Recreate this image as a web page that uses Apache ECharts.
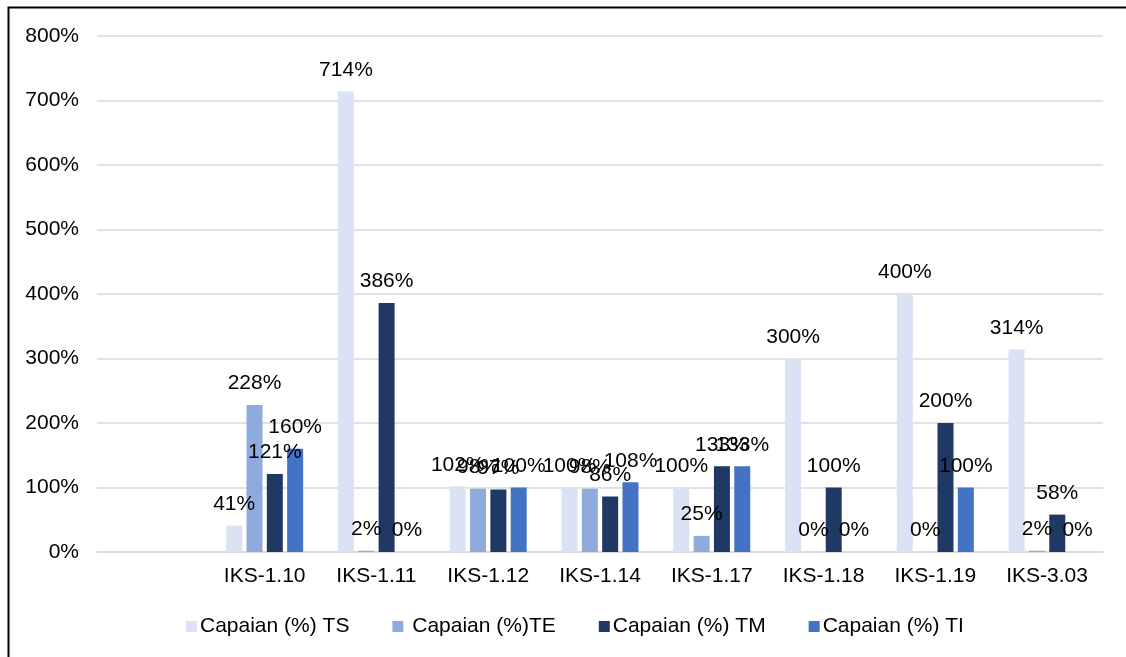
<!DOCTYPE html>
<html>
<head>
<meta charset="utf-8">
<script src="https://cdn.jsdelivr.net/npm/echarts@6/dist/echarts.min.js"></script>
<style>
html,body{margin:0;padding:0;background:#fff;}
#c{width:1126px;height:657px;}
</style>
</head>
<body>
<div id="c"></div>
<script>
const categories = ['', 'IKS-1.10', 'IKS-1.11', 'IKS-1.12', 'IKS-1.14', 'IKS-1.17', 'IKS-1.18', 'IKS-1.19', 'IKS-3.03'];
const seriesNames = ['Capaian (%) TS', ' Capaian (%)TE', 'Capaian (%) TM', 'Capaian (%) TI'];
const valuesTS = [null, 41, 714, 102, 100, 100, 300, 400, 314];
const valuesTE = [null, 228, 2, 98, 98, 25, 0, 0, 2];
const valuesTM = [null, 121, 386, 97, 86, 133, 100, 200, 58];
const valuesTI = [null, 160, 0, 100, 108, 133, 0, 100, 0];
const yTicks = [0, 100, 200, 300, 400, 500, 600, 700, 800];

const colors = ['#DAE3F3', '#8FAADC', '#203864', '#4472C4'];
const allValues = [valuesTS, valuesTE, valuesTM, valuesTI];
const FONT = '"Liberation Sans", Arial, sans-serif';
const FS = 21;

const chart = echarts.init(document.getElementById('c'), null, {renderer: 'canvas'});
chart.setOption({
  animation: false,
  backgroundColor: '#fff',
  color: colors,
  graphic: [{
    type: 'rect', left: 6, top: 5, silent: true,
    shape: {width: 1200, height: 800},
    style: {fill: 'none', stroke: '#000', lineWidth: 2}
  }],
  grid: {left: 97, right: 23, top: 36, bottom: 105, containLabel: false},
  legend: {
    left: 181, top: 611,
    itemWidth: 11, itemHeight: 11, itemGap: 43,
    icon: 'rect',
    textStyle: {fontFamily: FONT, fontSize: FS, color: '#000', padding: [0,0,0,-2]},
    data: seriesNames
  },
  xAxis: {
    type: 'category',
    data: categories,
    axisLine: {show: true, lineStyle: {color: '#D9D9D9', width: 1.5}},
    axisTick: {show: false},
    axisLabel: {fontFamily: FONT, fontSize: FS, color: '#000', margin: 14, interval: 0}
  },
  yAxis: {
    type: 'value',
    min: yTicks[0], max: yTicks[yTicks.length - 1], interval: 100,
    axisLine: {show: false},
    axisTick: {show: false},
    splitLine: {lineStyle: {color: '#D9D9D9', width: 1.5}},
    axisLabel: {fontFamily: FONT, fontSize: FS, color: '#000', margin: 18, formatter: v => v + '%'}
  },
  series: seriesNames.map((n, i) => ({
    name: n,
    type: 'bar',
    data: allValues[i],
    barWidth: 16,
    barGap: '27%',
    itemStyle: {color: colors[i]},
    label: {
      show: true, position: 'top', distance: 11,
      fontFamily: FONT, fontSize: FS, color: '#000',
      formatter: p => (p.value === null || p.value === undefined) ? '' : p.value + '%'
    }
  }))
});
</script>
</body>
</html>
